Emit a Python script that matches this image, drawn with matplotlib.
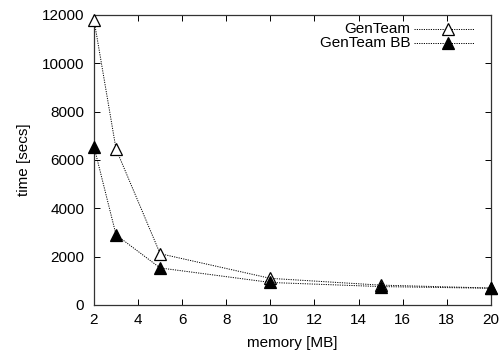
import matplotlib
matplotlib.use("Agg")
import matplotlib.pyplot as plt
from matplotlib.lines import Line2D

memory = [2, 3, 5, 10, 15, 20]
genteam = [11800, 6450, 2120, 1100, 820, 700]
genteam_bb = [6550, 2900, 1530, 930, 760, 690]
xticks = [2, 4, 6, 8, 10, 12, 14, 16, 18, 20]
yticks = [0, 2000, 4000, 6000, 8000, 10000, 12000]

plt.rcParams['font.family'] = ['Liberation Sans', 'DejaVu Sans']
fig = plt.figure(figsize=(5.04, 3.55), dpi=100)
ax = fig.add_axes([0.1865, 0.141, 0.7875, 0.817])

ls = (0, (1.2, 1.2))
ms = 8
ax.plot(memory, genteam, color='black', lw=0.7, ls=ls, marker='^', ms=ms,
        mfc='white', mec='black', mew=0.9, clip_on=False, zorder=3)
ax.plot(memory, genteam_bb, color='black', lw=0.7, ls=ls, marker='^', ms=ms,
        mfc='black', mec='black', mew=0.9, clip_on=False, zorder=4)

ax.set_xlim(2, 20)
ax.set_ylim(0, 12000)
ax.set_xticks(xticks)
ax.set_yticks(yticks)
ax.tick_params(direction='in', top=True, right=True, length=4, width=0.7,
               labelsize=11)
ax.tick_params(axis='x', pad=6)
ax.tick_params(axis='y', pad=7)
for s in ax.spines.values():
    s.set_linewidth(0.9)
    s.set_color('#333333')
ax.set_xlabel('memory [MB]', fontsize=11, labelpad=6)
ax.set_ylabel('time [secs]', fontsize=11, labelpad=8)

# legend (manual, gnuplot style: label right-aligned, sample to the right)
labels = ['GenTeam', 'GenTeam BB']
fills = ['white', 'black']
tr = ax.transAxes
for i, (lab, fc) in enumerate(zip(labels, fills)):
    yy = 0.95 - i * 0.047
    ax.text(0.798, yy, lab, transform=tr, ha='right', va='center', fontsize=11)
    ax.add_line(Line2D([0.806, 0.958], [yy, yy], transform=tr, color='black',
                       lw=0.7, ls=ls))
    ax.add_line(Line2D([0.892], [yy], transform=tr, marker='^', ms=ms,
                       mfc=fc, mec='black', mew=0.9, ls='none'))

fig.savefig('out.png', dpi=100)
